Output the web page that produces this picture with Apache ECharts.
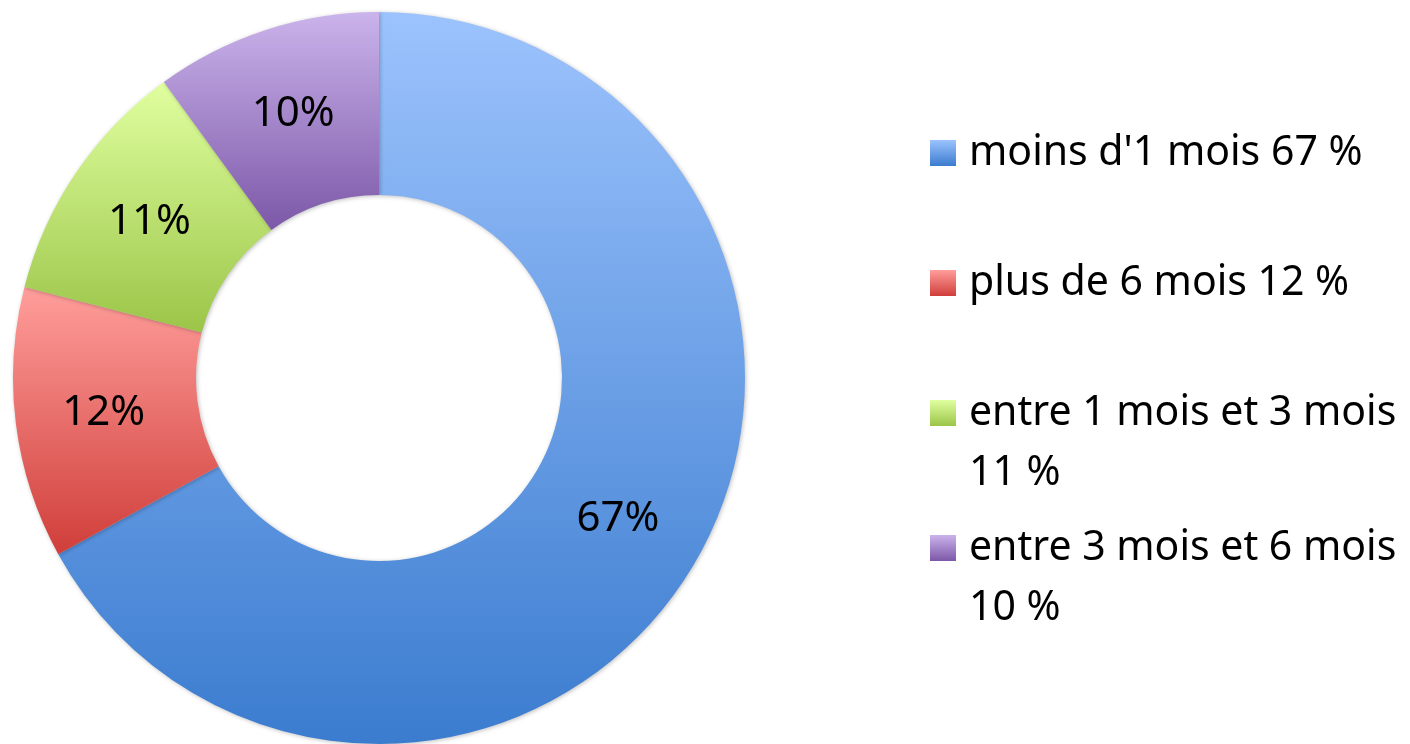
<!DOCTYPE html>
<html>
<head>
<meta charset="utf-8">
<script src="https://cdn.jsdelivr.net/npm/echarts@6/dist/echarts.min.js"></script>
<style>
  html, body { margin: 0; padding: 0; background: #fff; }
  #chart { width: 1410px; height: 744px; }
</style>
</head>
<body>
<div id="chart"></div>
<script>
// durée -> part en %
const categories = ["moins d'1 mois", 'plus de 6 mois', 'entre 1 mois et 3 mois', 'entre 3 mois et 6 mois']
const values = [67, 12, 11, 10]

// dégradés verticaux (haut clair -> bas foncé)
const topColors = ['#9cc3fd', '#ff9e9b', '#e0ffa0', '#cbb3eb']
const bottomColors = ['#3b7ccf', '#d03e3a', '#9bc548', '#7c58a8']

function grad(i) {
  return new echarts.graphic.LinearGradient(0, 0, 0, 1, [
    { offset: 0, color: topColors[i] },
    { offset: 1, color: bottomColors[i] }
  ])
}

const chart = echarts.init(document.getElementById('chart'))

const legendTops = [123, 253, 323, 458]
const font = '"Noto Sans", sans-serif'

const legends = categories.map((name, i) => {
  const twoLines = name.length > 18
  return {
    data: [{ name: name, itemStyle: { color: grad(i) } }],
    orient: 'vertical',
    left: 930,
    top: legendTops[i],
    padding: 0,
    itemWidth: 26,
    itemHeight: 26,
    icon: 'rect',
    selectedMode: false,
    // ligne vide en tête pour que l'icône reste alignée sur le nom
    formatter: n => twoLines ? ' \n' + n + '\n' + values[i] + ' %' : n + ' ' + values[i] + ' %',
    textStyle: {
      fontFamily: font,
      fontSize: 41,
      color: '#000',
      lineHeight: 60,
      padding: [0, 0, 0, 8]
    }
  }
})

const option = {
  animation: false,
  legend: legends,
  series: [
    {
      type: 'pie',
      center: [379, 378],
      radius: [183, 366],
      startAngle: 90,
      clockwise: true,
      silent: true,
      label: {
        show: true,
        position: 'inside',
        formatter: '{d}%',
        fontFamily: font,
        fontSize: 42,
        color: '#000'
      },
      labelLine: { show: false },
      itemStyle: {
        shadowColor: 'rgba(0,0,0,0.25)',
        shadowBlur: 4,
        shadowOffsetX: 1,
        shadowOffsetY: 1
      },
      data: categories.map((name, i) => ({
        name: name,
        value: values[i],
        itemStyle: { color: grad(i) }
      }))
    }
  ]
}

chart.setOption(option)
</script>
</body>
</html>
